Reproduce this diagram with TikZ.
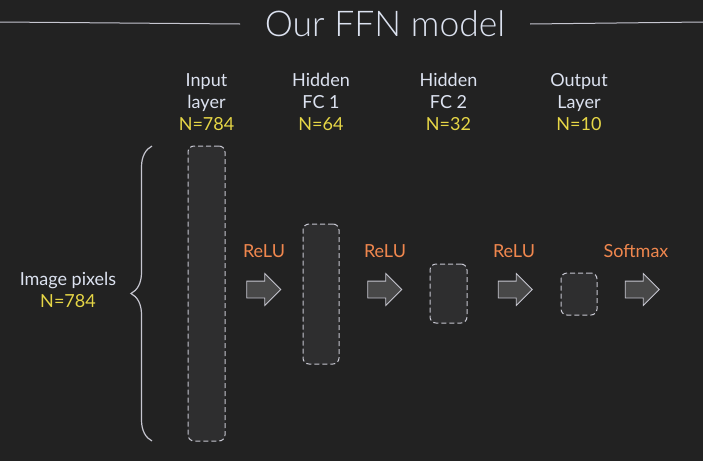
\documentclass[tikz,border=0pt]{standalone}
\usepackage{fontspec}
\setmainfont{Lato}
\newfontfamily\thinfont{Lato Light}
\usepackage{tikz}
\usetikzlibrary{positioning, shapes.arrows, decorations.pathreplacing}

\definecolor{bgcol}{HTML}{222222}
\definecolor{boxfill}{HTML}{2E2E2F}
\definecolor{boxline}{HTML}{C6C6D0}
\definecolor{arrowfill}{HTML}{484848}
\definecolor{labelcol}{HTML}{DCE2F0}
\definecolor{countcol}{HTML}{E6D646}
\definecolor{actcol}{HTML}{F0874E}

\tikzset{
    layerbox/.style={draw=boxline, fill=boxfill, line width=1pt,
        dash pattern=on 5pt off 3pt, rounded corners=6pt, inner sep=0pt},
    headlabel/.style={text=labelcol, font=\fontsize{18}{22}\selectfont, align=center},
    actlabel/.style={text=actcol, font=\fontsize{18}{20}\selectfont},
    blockarrow/.style={single arrow, draw=boxline, fill=arrowfill, line width=0.8pt,
        minimum height=34pt, inner xsep=0pt, inner ysep=8pt, single arrow head extend=7.5pt}
}

\begin{document}
\begin{tikzpicture}[x=1pt, y=-1pt]
    % canvas
    \fill[bgcol] (0,0) rectangle (703,461);
    \useasboundingbox (0,0) rectangle (703,461);

    % title
    \node[text=labelcol, font=\thinfont\fontsize{35.5}{40}\selectfont] (title) at (385,24) {Our FFN model};
    \draw[boxline, line width=1pt] (0,22) -- (title.west -| 240,0);
    \draw[boxline, line width=1pt] (title.east -| 530,0) -- (703,22);

    % layers
    \foreach \name/\x/\y/\w/\h/\top/\bot/\n in {
        input/206.5/293.5/37/295/Input/layer/784,
        fcone/321/294/36/140/Hidden/FC 1/64,
        fctwo/448.5/293.5/37/59/Hidden/FC 2/32,
        output/579/294/36/42/Output/Layer/10}{
        \node[layerbox, minimum width=\w pt, minimum height=\h pt] (\name) at (\x,\y) {};
        \node[headlabel] (\name-label) at (\x,102) {\top\\\bot\\\textcolor{countcol}{N=\n}};
    }

    % activations
    \foreach \name/\x/\lx/\act in {
        actone/259.5/264/ReLU,
        acttwo/380.5/385/ReLU,
        actthree/511/514/ReLU,
        actfour/638/636/Softmax}{
        \node[blockarrow] (\name) at (\x,289.5) {};
        \node[actlabel] (\name-label) at (\lx,251) {\act};
    }

    % brace over the pixels
    \coordinate (brace-bot) at (152,441);
    \coordinate (brace-top) at (152,146);
    \draw[boxline, line width=1.2pt, decorate, decoration={brace, amplitude=21pt}]
        (brace-bot) -- (brace-top);
    \node[headlabel] (pixels) at (68,290) {Image pixels\\\textcolor{countcol}{N=784}};
\end{tikzpicture}
\end{document}
